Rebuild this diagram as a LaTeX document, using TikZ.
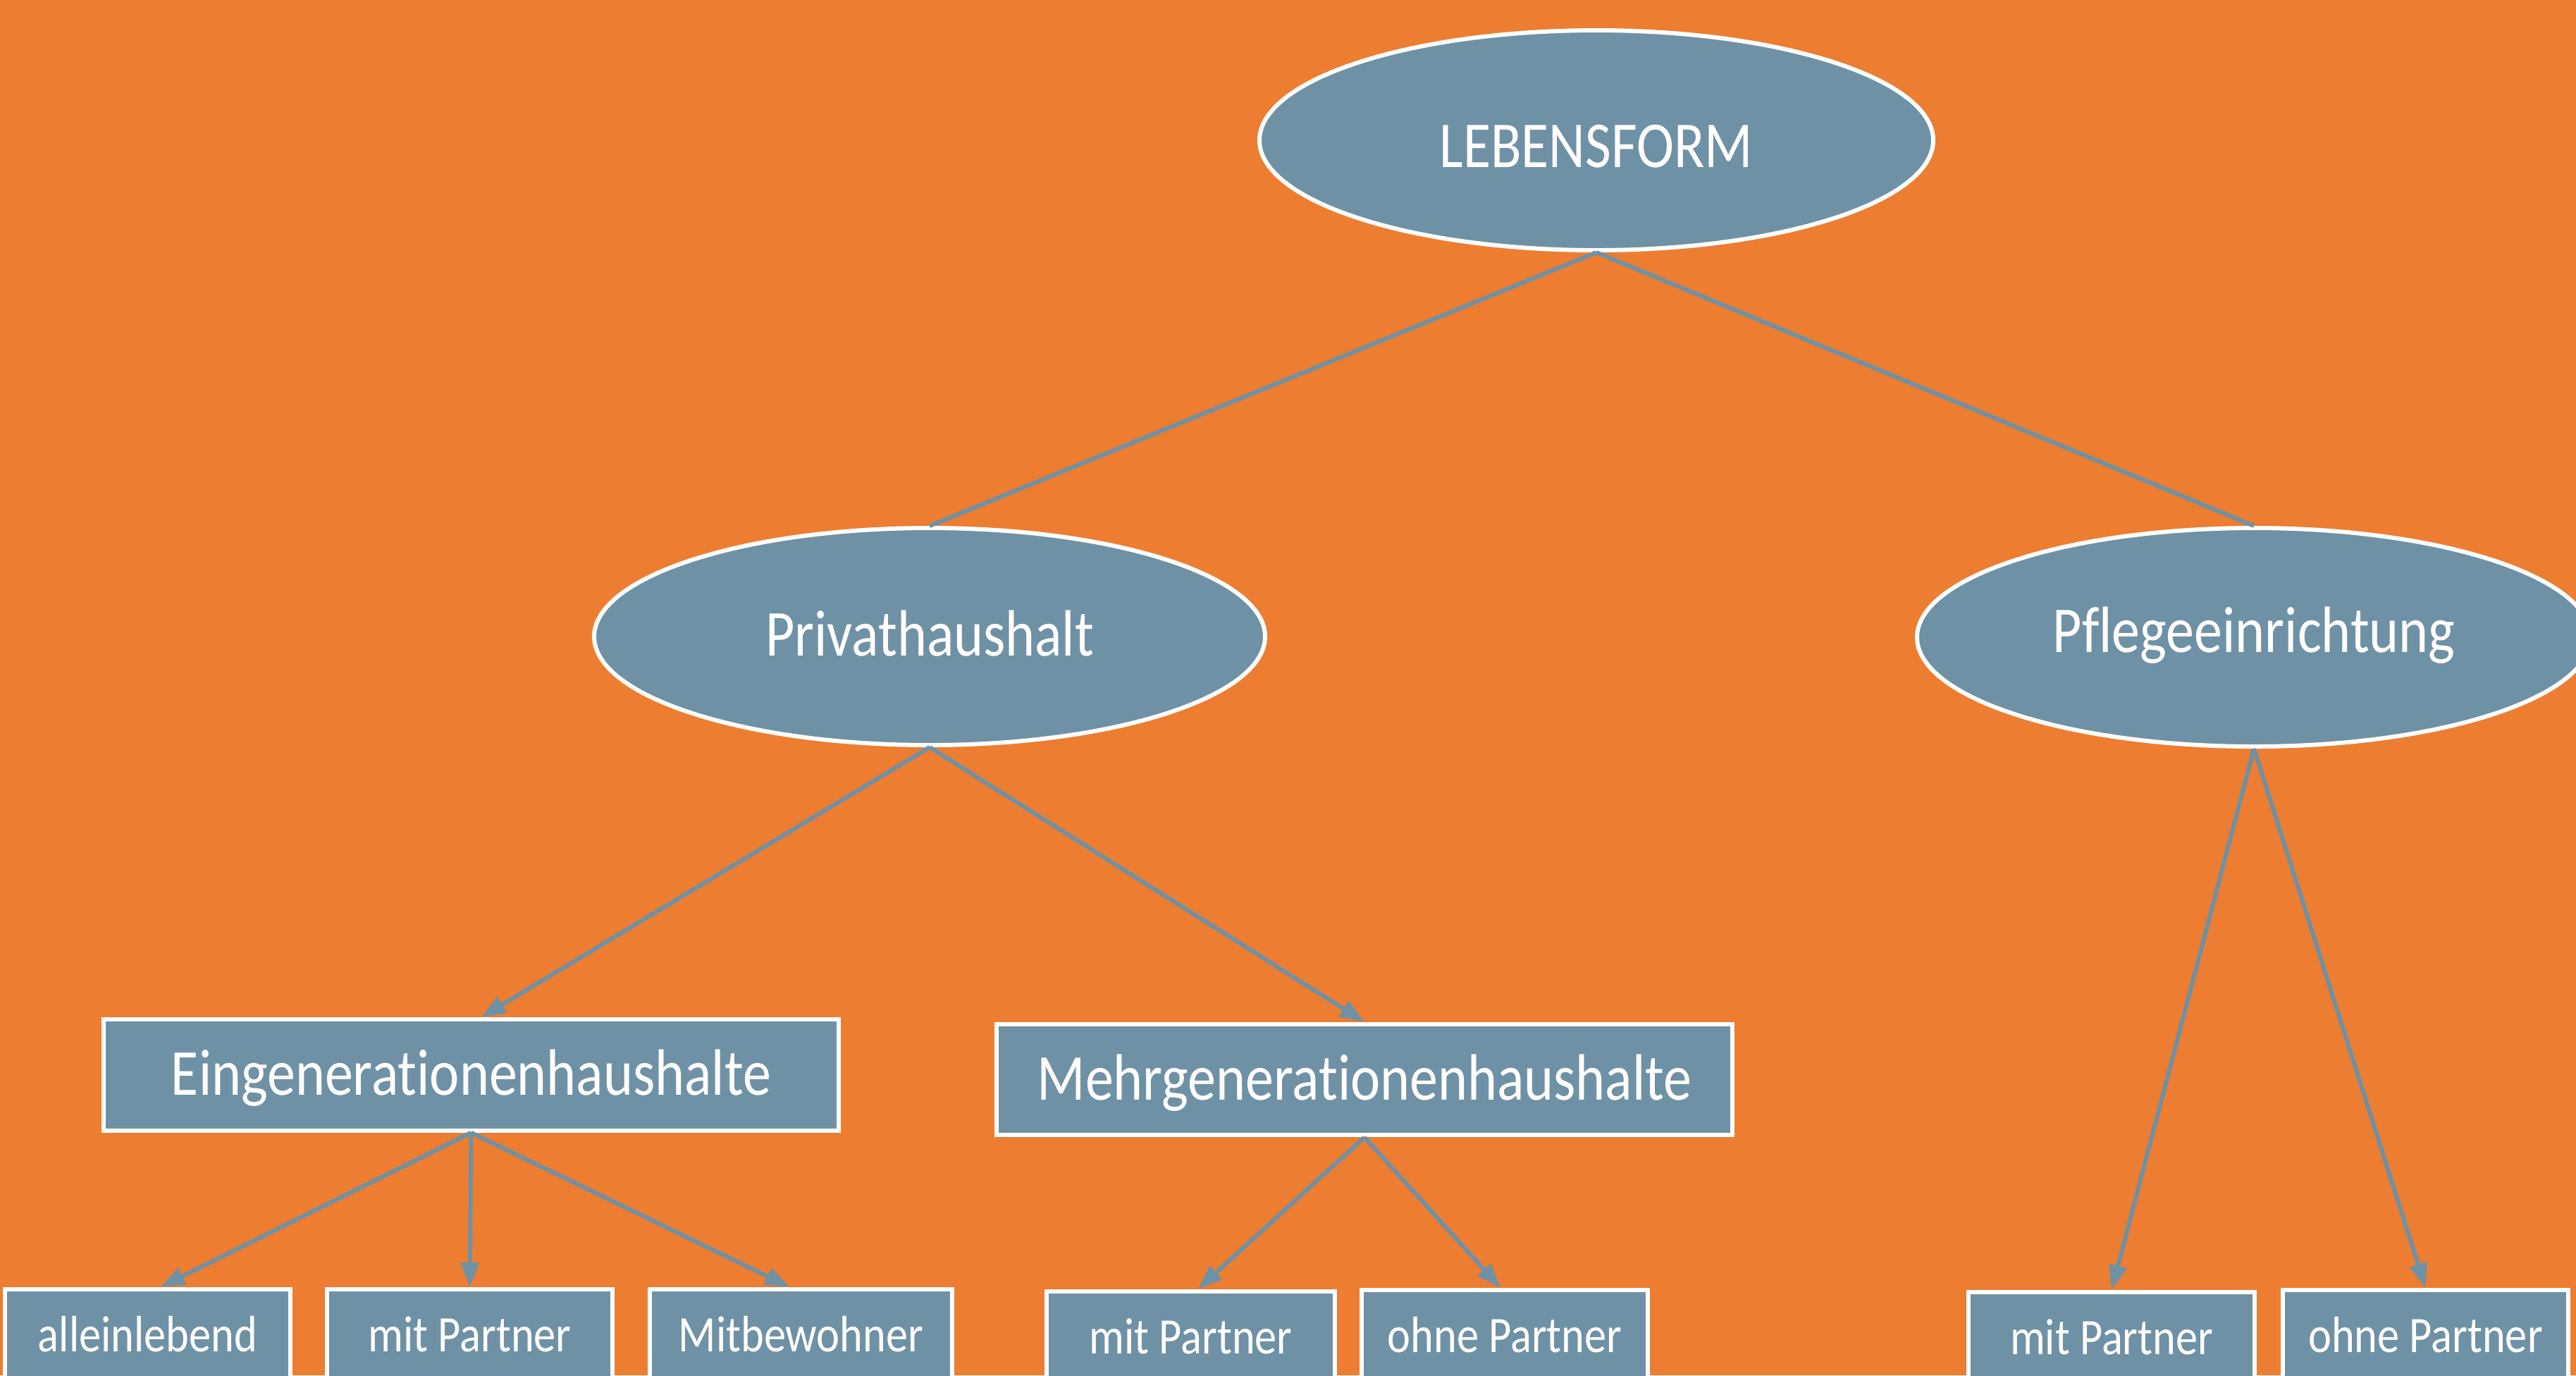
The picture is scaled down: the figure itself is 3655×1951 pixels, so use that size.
\documentclass[tikz,border=0pt]{standalone}
\usepackage{fontspec}
\setmainfont{Carlito}[FakeStretch=0.86,Ligatures={NoCommon}]
\usetikzlibrary{shapes.geometric,arrows.meta,calc}
\definecolor{bgorange}{RGB}{237,125,49}
\definecolor{nodeblue}{RGB}{111,145,165}
\begin{document}
\begin{tikzpicture}[x=0.2pt,y=-0.2pt,
  oval/.style={ellipse, draw=white, line width=1.2pt, fill=nodeblue, text=white, inner sep=0pt, font=\fontsize{18.6}{20}\selectfont},
  bigbox/.style={rectangle, draw=white, line width=1.2pt, fill=nodeblue, text=white, inner sep=0pt, minimum height=31.5pt, font=\fontsize{18.6}{20}\selectfont, text height=1.26em, text depth=0.12em},
  smallbox/.style={rectangle, draw=white, line width=1.2pt, fill=nodeblue, text=white, inner sep=0pt, minimum height=28.4pt, font=\fontsize{14.5}{16}\selectfont, text height=0.9em, text depth=0.2em},
  link/.style={draw=nodeblue, line width=1.2pt},
  arr/.style={link, -{Triangle[length=7pt,width=5pt]}}
]
\useasboundingbox (0,0) rectangle (3655,1951);
\clip (0,0) rectangle (3655,1951);
\fill[bgorange] (0,0) rectangle (3655,1951);

\node[oval, minimum width=191.2pt, minimum height=62.4pt, text height=1.66em, text depth=0.12em] (L) at (2265,199) {LEBENSFORM};
\node[oval, minimum width=190.4pt, minimum height=61.6pt, text height=1.21em, text depth=0.12em] (P) at (1319,903) {Privathaushalt};
\node[oval, minimum width=191.2pt, minimum height=62pt, text height=0.97em, text depth=0.12em] (F) at (3198,904) {Pflegeeinrichtung};

\node[bigbox, minimum width=208.6pt] (E) at (668.5,1525) {Eingenerationenhaushalte};
\node[bigbox, minimum width=208.8pt] (M) at (1936,1531.5) {Mehrgenerationenhaushalte};

\node[smallbox, minimum width=81pt] (a1) at (209.5,1900) {alleinlebend};
\node[smallbox, minimum width=81pt] (m1) at (666.5,1900) {mit Partner};
\node[smallbox, minimum width=85.8pt] (b1) at (1136.5,1900) {Mitbewohner};
\node[smallbox, minimum width=81.8pt] (m2) at (1689.5,1903) {mit Partner};
\node[smallbox, minimum width=81.2pt] (o2) at (2135,1901) {ohne Partner};
\node[smallbox, minimum width=81.2pt] (m3) at (2996,1904) {mit Partner};
\node[smallbox, minimum width=81pt] (o3) at (3441.5,1901) {ohne Partner};

\draw[link] (L.south) -- (P.north);
\draw[link] (L.south) -- (F.north);
\draw[arr] (P.south) -- ($(E.north)+(14,0)$);
\draw[arr] (P.south) -- (M.north);
\draw[arr] (E.south) -- ($(a1.north)+(18,0)$);
\draw[arr] (E.south) -- (m1.north);
\draw[arr] (E.south) -- ($(b1.north)+(-16,0)$);
\draw[arr] (M.south) -- ($(m2.north)+(10,0)$);
\draw[arr] (M.south) -- ($(o2.north)+(-6,0)$);
\draw[arr] (F.south) -- (m3.north);
\draw[arr] (F.south) -- (o3.north);
\end{tikzpicture}
\end{document}
